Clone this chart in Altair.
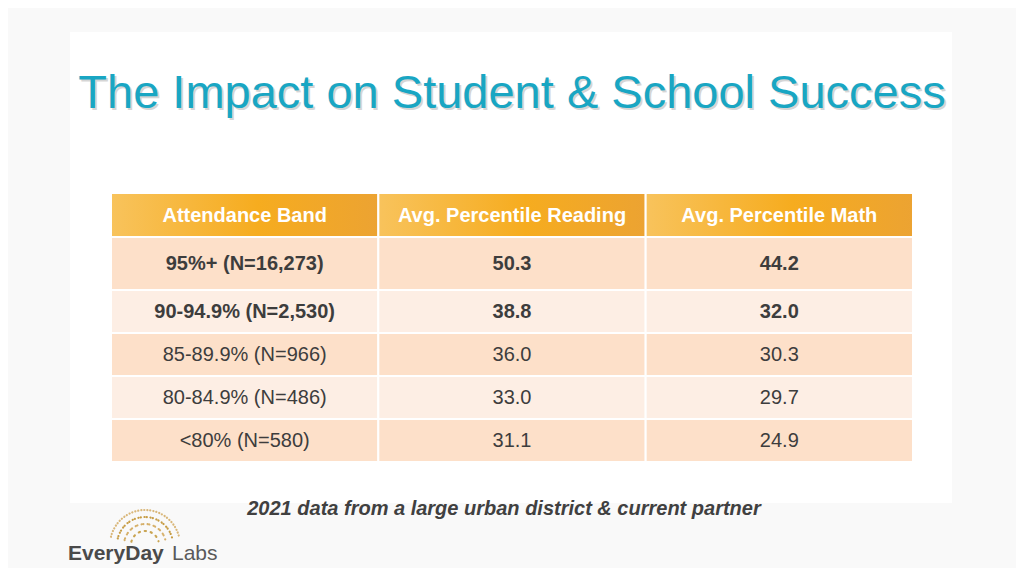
import altair as alt
import pandas as pd

# ---- data ----
title_text = ["The Impact on Student & School Success"]
columns = ["Attendance Band", "Avg. Percentile Reading", "Avg. Percentile Math"]
bands = ["95%+ (N=16,273)", "90-94.9% (N=2,530)", "85-89.9% (N=966)", "80-84.9% (N=486)", "<80% (N=580)"]
reading = [50.3, 38.8, 36.0, 33.0, 31.1]
math = [44.2, 32.0, 30.3, 29.7, 24.9]
note_text = ["2021 data from a large urban district & current partner"]
logo_bold = ["EveryDay"]
logo_light = ["Labs"]

# ---- tables built from the lists ----
header_rows = [{"row": 0, "row_end": 1, "col": j, "col_end": j + 1, "label": c}
               for j, c in enumerate(columns)]
header_df = pd.DataFrame(header_rows)

body_rows = []
for i, (b, r, m) in enumerate(zip(bands, reading, math)):
    for j, val in enumerate([b, f"{r:.1f}", f"{m:.1f}"]):
        body_rows.append({"row": i + 1, "row_end": i + 2, "col": j, "col_end": j + 1,
                          "label": val, "shade": "a" if i % 2 == 0 else "b",
                          "emph": i < 2})
body_df = pd.DataFrame(body_rows)

FONT = "Liberation Sans"
W, H = 1008, 560

xs = alt.Scale(domain=[0, 3], range=[103, 905], nice=False, zero=False)
ys = alt.Scale(domain=[0, 1, 2, 3, 4, 5, 6], range=[185, 229, 282, 325, 368, 411, 454],
               nice=False, zero=False)

X = lambda f: alt.X(f, type="quantitative", scale=xs, axis=None)
Y = lambda f: alt.Y(f, type="quantitative", scale=ys, axis=None)

# white panel
panel = alt.Chart(pd.DataFrame({"k": [0]})).mark_rect(color="#ffffff").encode(
    x=alt.value(62), x2=alt.value(944), y=alt.value(24), y2=alt.value(495))

# title with soft shadow
tdf = pd.DataFrame({"t": title_text})
title_shadow = alt.Chart(tdf).mark_text(
    font=FONT, fontSize=47, color="#8a8a8a", opacity=0.35, align="center",
    baseline="alphabetic", dx=2, dy=2).encode(x=alt.value(504), y=alt.value(100), text="t:N")
title = alt.Chart(tdf).mark_text(
    font=FONT, fontSize=47, color="#19a6c3", align="center",
    baseline="alphabetic").encode(x=alt.value(504), y=alt.value(100), text="t:N")

# header cells
grad = alt.Gradient(gradient="linear", x1=0, x2=1, y1=0, y2=0, stops=[
    alt.GradientStop(color="#f8c35c", offset=0),
    alt.GradientStop(color="#f6ac1f", offset=0.55),
    alt.GradientStop(color="#eca332", offset=1)])
header_cells = alt.Chart(header_df).mark_rect(color=grad, stroke="#ffffff", strokeWidth=2).encode(
    x=X("col"), x2="col_end", y=Y("row"), y2="row_end")
header_text = alt.Chart(header_df).transform_calculate(
    cx="datum.col + 0.5", cy="datum.row + 0.5").mark_text(
    font=FONT, fontSize=20, fontWeight="bold", color="#ffffff", align="center",
    baseline="middle", dy=1).encode(x=X("cx"), y=Y("cy"), text="label:N")

# body cells
body_cells = alt.Chart(body_df).mark_rect(stroke="#ffffff", strokeWidth=2).encode(
    x=X("col"), x2="col_end", y=Y("row"), y2="row_end",
    color=alt.Color("shade:N", scale=alt.Scale(domain=["a", "b"], range=["#fde0c9", "#fdeee4"]),
                    legend=None))
body_bold = alt.Chart(body_df).transform_filter("datum.emph").transform_calculate(
    cx="datum.col + 0.5", cy="datum.row + 0.5").mark_text(
    font=FONT, fontSize=20, fontWeight="bold", color="#3d3d3d", align="center",
    baseline="middle").encode(x=X("cx"), y=Y("cy"), text="label:N")
body_reg = alt.Chart(body_df).transform_filter("!datum.emph").transform_calculate(
    cx="datum.col + 0.5", cy="datum.row + 0.5").mark_text(
    font=FONT, fontSize=20, color="#3d3d3d", align="center",
    baseline="middle").encode(x=X("cx"), y=Y("cy"), text="label:N")

# footnote
note = alt.Chart(pd.DataFrame({"t": note_text})).mark_text(
    font=FONT, fontSize=20, fontWeight="bold", fontStyle="italic", color="#404040",
    align="center", baseline="alphabetic").encode(x=alt.value(496), y=alt.value(507), text="t:N")

# logo
logo1 = alt.Chart(pd.DataFrame({"t": logo_bold})).mark_text(
    font=FONT, fontSize=21, fontWeight="bold", color="#4a4a4a", align="left",
    baseline="alphabetic").encode(x=alt.value(60), y=alt.value(552), text="t:N")
logo2 = alt.Chart(pd.DataFrame({"t": logo_light})).mark_text(
    font=FONT, fontSize=21, fontWeight=300, color="#5a5a5a", align="left",
    baseline="alphabetic").encode(x=alt.value(164), y=alt.value(552), text="t:N")
arcs = []
for r, col in [(14, "#c9a451"), (21, "#d6b06a"), (28, "#c79d45"), (35, "#d9b77a")]:
    arcs.append(alt.Chart(pd.DataFrame({"k": [0]})).mark_arc(
        radius=r, radius2=r, theta=4.95, theta2=7.62, fillOpacity=0, stroke=col,
        strokeWidth=2.2, strokeDash=[0.1, 6], strokeCap="round").encode(
        x=alt.value(137), y=alt.value(537)))

chart = alt.layer(panel, title_shadow, title, header_cells, header_text, body_cells,
                  body_bold, body_reg, note, logo1, logo2, *arcs).properties(
    width=W, height=H, padding=0,
    autosize=alt.AutoSizeParams(type="fit", contains="padding"),
    background="#f9f9f9").configure_view(stroke=None)

chart.save("out.html", embed_options={"renderer": "svg", "actions": False})
